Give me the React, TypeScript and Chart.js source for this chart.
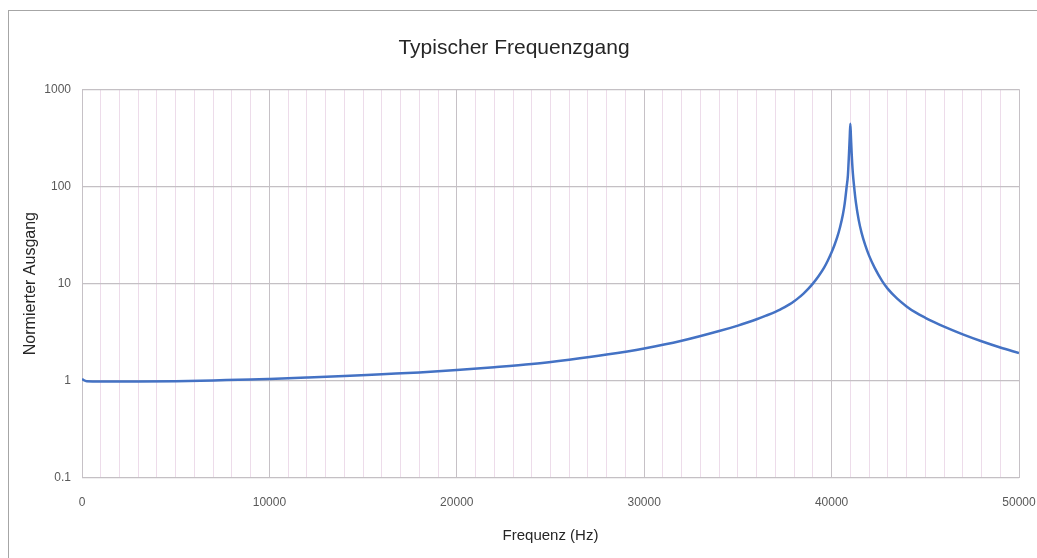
import React, { useEffect, useRef } from "react";
import { Chart, registerables } from "chart.js";

Chart.register(...registerables);

const freqHz = [
  0, 250, 1000, 3000, 5000, 7000, 9000, 10000, 12000, 14000, 16000, 18000,
  20000, 22000, 24000, 26000, 28000, 30000, 32000, 34000, 35000, 35500, 36000,
  36500, 37000, 37250, 37500, 37750, 38000, 38250, 38500, 38750, 39000, 39300,
  39600, 39800, 40000, 40150, 40300, 40450, 40600, 40700, 40800, 40870, 40930,
  40970, 41000, 41030, 41070, 41130, 41200, 41300, 41450, 41600, 41800, 42000,
  42300, 42700, 43000, 43500, 44000, 44500, 45000, 45500, 46000, 47000, 48000,
  49000, 50000,
];

const normOutput = [
  1.04, 0.99, 0.985, 0.985, 0.99, 1.01, 1.03, 1.045, 1.08, 1.12, 1.17, 1.22,
  1.29, 1.38, 1.49, 1.65, 1.86, 2.15, 2.58, 3.25, 3.7, 3.98, 4.3,
  4.68, 5.12, 5.39, 5.72, 6.11, 6.59, 7.17, 7.9, 8.83, 10.0, 11.9,
  14.6, 17.3, 21, 24.8, 30, 38, 51, 67, 98, 130, 220,
  330, 440, 330, 220, 140, 100, 67.6, 44.7, 33.3, 24.7, 19.4,
  14.5, 10.6, 8.82, 7.0, 5.83, 5.02, 4.45, 3.99, 3.6, 3.0, 2.55,
  2.2, 1.93,
];

const yTickValues = [0.1, 1, 10, 100, 1000];
const yTickLabels = ["0.1", "1", "10", "100", "1000"];
const xMajorStep = 10000;
const xMinorStep = 1000;

const FONT = "'Liberation Sans', Arial, sans-serif";

export default function App() {
  const canvasRef = useRef<HTMLCanvasElement | null>(null);

  useEffect(() => {
    const canvas = canvasRef.current;
    if (!canvas) return;
    const points = freqHz.map((f, i) => ({ x: f, y: normOutput[i] }));
    const chart = new Chart(canvas, {
      type: "line",
      data: {
        datasets: [
          {
            data: points,
            borderColor: "#4472c4",
            borderWidth: 2.5,
            pointRadius: 0,
            fill: false,
            cubicInterpolationMode: "monotone",
          },
        ],
      },
      options: {
        responsive: false,
        animation: false,
        layout: { padding: { left: 0, right: 18, top: 0, bottom: 12 } },
        plugins: {
          legend: { display: false },
          tooltip: { enabled: false },
          title: {
            display: true,
            text: "Typischer Frequenzgang",
            color: "#262626",
            font: { family: FONT, size: 21, weight: "normal" },
            padding: { top: 25, bottom: 28 },
          },
        },
        scales: {
          x: {
            type: "linear",
            min: 0,
            max: 50000,
            ticks: {
              stepSize: xMinorStep,
              maxTicksLimit: 60,
              autoSkip: false,
              maxRotation: 0,
              padding: 17,
              color: "#595959",
              font: { family: FONT, size: 12 },
              callback: (v: any) => (Number(v) % xMajorStep === 0 ? String(v) : ""),
            },
            grid: {
              drawTicks: false,
              lineWidth: 1,
              color: (ctx: any) =>
                ctx.tick && ctx.tick.value % xMajorStep === 0 ? "#c6c1c6" : "#eddcea",
            },
            border: { display: false },
            title: {
              display: true,
              text: "Frequenz (Hz)",
              color: "#262626",
              font: { family: FONT, size: 15 },
              padding: { top: 0, bottom: 1 },
            },
            afterFit: (s: any) => {
              s.height = 68;
              s.paddingLeft = 0;
              s.paddingRight = 0;
            },
          },
          y: {
            type: "logarithmic",
            min: 0.1,
            max: 1000,
            afterBuildTicks: (s: any) => {
              s.ticks = yTickValues.map((v) => ({ value: v }));
            },
            ticks: {
              padding: 11,
              color: "#595959",
              font: { family: FONT, size: 12 },
              callback: (v: any) => {
                const i = yTickValues.indexOf(Number(v));
                return i >= 0 ? yTickLabels[i] : "";
              },
            },
            grid: { drawTicks: false, color: "#c4c0c4", lineWidth: 1.2 },
            border: { display: false },
            title: {
              display: true,
              text: "Normierter Ausgang",
              color: "#262626",
              font: { family: FONT, size: 16 },
              padding: { top: 12, bottom: 0 },
            },
            afterFit: (s: any) => {
              s.width = 73;
              s.paddingTop = 0;
              s.paddingBottom = 0;
            },
          },
        },
      },
    });
    return () => chart.destroy();
  }, []);

  return (
    <div
      style={{
        position: "fixed",
        left: 8,
        top: 10,
        width: 1029,
        height: 548,
        boxSizing: "border-box",
        borderTop: "1px solid #a6a6a6",
        borderLeft: "1px solid #a6a6a6",
        background: "#fff",
      }}
    >
      <canvas ref={canvasRef} width={1028} height={547} style={{ display: "block" }} />
    </div>
  );
}
